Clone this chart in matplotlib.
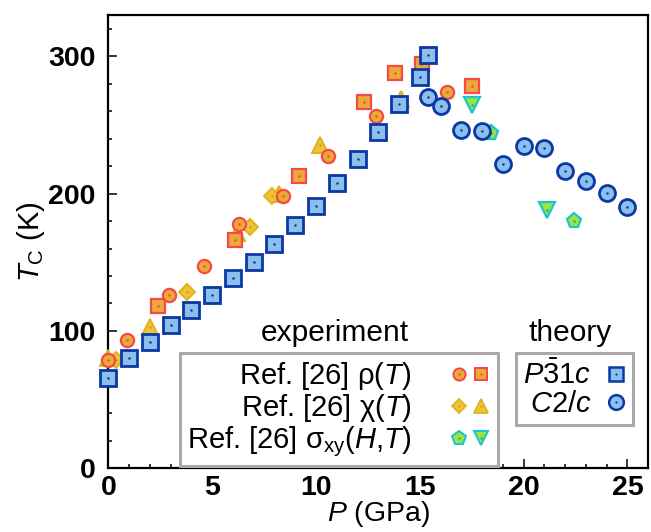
import matplotlib
matplotlib.use("Agg")
import matplotlib.pyplot as plt
from matplotlib.lines import Line2D
from matplotlib.legend_handler import HandlerTuple
from matplotlib.ticker import MultipleLocator

plt.rcParams['font.family'] = ['Liberation Sans', 'DejaVu Sans']
plt.rcParams['mathtext.fontset'] = 'custom'
plt.rcParams['mathtext.rm'] = 'Liberation Sans'
plt.rcParams['mathtext.it'] = 'Liberation Sans:italic'
plt.rcParams['mathtext.bf'] = 'Liberation Sans:bold'

# ---- theory: P-31c and C2/c ----
p31c_P = [0, 1, 2, 3, 4, 5, 6, 7, 8, 9, 10, 11, 12, 13, 14, 15, 15.4]
p31c_T = [65.5, 80, 92, 104, 115.5, 126, 138.5, 150.5, 163, 177, 191, 208,
          225.5, 244.5, 265, 285, 301]
c2c_P = [15.4, 16, 17, 18, 19, 20, 21, 22, 23, 24, 25]
c2c_T = [270.5, 264, 246.5, 245.5, 221.5, 234.5, 233.5, 216.5, 209.5, 200.5, 190.5]

# ---- experiment, Ref. [26] ----
rho_circ_P = [0, 0.9, 2.9, 4.6, 6.3, 8.4, 10.6, 12.9, 16.3]
rho_circ_T = [79, 93.5, 126, 147.5, 177.5, 198, 227.5, 256.5, 274]
rho_sq_P = [2.4, 6.1, 9.2, 12.3, 13.8, 15.1, 17.5]
rho_sq_T = [118.5, 166.5, 212.5, 267, 287.5, 294.5, 278.5]
chi_dia_P = [0.35, 3.8, 6.8, 7.9]
chi_dia_T = [79, 128, 175.5, 198]
chi_tri_P = [0, 2.0, 6.2, 8.2, 10.2, 14.1]
chi_tri_T = [80, 103, 171, 200, 235.5, 269]
sig_pent_P = [18.45, 22.4]
sig_pent_T = [244, 180]
sig_tri_P = [17.5, 21.1]
sig_tri_T = [264.5, 188]

BLUE_F, BLUE_E = '#8bbfec', '#0b38a6'
ORG_F, ORG_E = '#eaa93a', '#f44a45'
YEL_F, YEL_E = '#ecc438', '#e2b11c'
GRN_F, GRN_E = '#9fe23c', '#17c6d0'

styles = {
    'rho_c': dict(marker='o', ms=9.5, mfc=ORG_F, mec=ORG_E, mew=1.6, dot=ORG_E),
    'rho_s': dict(marker='s', ms=9.5, mfc=ORG_F, mec=ORG_E, mew=1.6, dot=ORG_E),
    'chi_d': dict(marker='D', ms=8.0, mfc=YEL_F, mec=YEL_E, mew=1.4, dot='#d99a20'),
    'chi_t': dict(marker='^', ms=11.5, mfc=YEL_F, mec=YEL_E, mew=1.4, dot='#d99a20'),
    'sig_p': dict(marker='p', ms=11.0, mfc=GRN_F, mec=GRN_E, mew=1.6, dot='#12a8b0'),
    'sig_t': dict(marker='v', ms=11.5, mfc=GRN_F, mec=GRN_E, mew=1.6, dot='#12a8b0'),
    'p31c': dict(marker='s', ms=11.5, mfc=BLUE_F, mec=BLUE_E, mew=2.0, dot=BLUE_E),
    'c2c': dict(marker='o', ms=11.5, mfc=BLUE_F, mec=BLUE_E, mew=2.0, dot=BLUE_E),
}


class Stack(tuple):
    """Artists drawn on top of each other in one legend slot."""


def draw(ax, x, y, key, z):
    st = dict(styles[key])
    dot = st.pop('dot')
    ax.plot(x, y, ls='none', zorder=z, clip_on=False, **st)
    ax.plot(x, y, ls='none', marker='o', ms=1.8, mfc=dot, mec='none',
            zorder=z + 0.1, clip_on=False)


def handle(key, scale=0.92):
    st = dict(styles[key])
    dot = st.pop('dot')
    st['ms'] = st['ms'] * scale
    st['mew'] = st['mew'] * 0.9
    main = Line2D([], [], ls='none', **st)
    d = Line2D([], [], ls='none', marker='o', ms=1.6, mfc=dot, mec='none')
    return Stack((main, d))


fig = plt.figure(figsize=(6.51, 5.32), dpi=100)
ax = fig.add_axes([0.1664, 0.1197, 0.8294, 0.8521])

draw(ax, chi_tri_P, chi_tri_T, 'chi_t', 3)
draw(ax, chi_dia_P, chi_dia_T, 'chi_d', 3.2)
draw(ax, rho_sq_P, rho_sq_T, 'rho_s', 3.4)
draw(ax, rho_circ_P, rho_circ_T, 'rho_c', 3.6)
draw(ax, sig_pent_P, sig_pent_T, 'sig_p', 3.8)
draw(ax, sig_tri_P, sig_tri_T, 'sig_t', 3.8)
draw(ax, p31c_P, p31c_T, 'p31c', 5)
draw(ax, c2c_P, c2c_T, 'c2c', 5)

ax.set_xlim(0, 26)
ax.set_ylim(0, 330)
ax.xaxis.set_major_locator(MultipleLocator(5))
ax.xaxis.set_minor_locator(MultipleLocator(1))
ax.yaxis.set_major_locator(MultipleLocator(100))
ax.yaxis.set_minor_locator(MultipleLocator(20))
ax.tick_params(which='both', direction='in', top=False, right=False, width=1.1,
               labelsize=20.5)
ax.tick_params(which='major', length=6.5)
ax.tick_params(which='minor', length=3)
ax.tick_params(axis='y', pad=9)
ax.tick_params(axis='x', pad=5)
for lab in ax.get_xticklabels() + ax.get_yticklabels():
    lab.set_fontweight('bold')
for sp in ax.spines.values():
    sp.set_linewidth(1.6)

ax.set_xlabel(r'$\mathit{P}$ (GPa)', fontsize=20.5, labelpad=-1.5)
ax.set_ylabel(r'$\mathit{T}_{\mathrm{C}}$ (K)', fontsize=21, labelpad=1)

# legends
hmap = {Stack: HandlerTuple(ndivide=1, pad=0),
        tuple: HandlerTuple(ndivide=None, pad=0.15)}

exp_handles = [
    (handle('rho_c'), handle('rho_s')),
    (handle('chi_d'), handle('chi_t')),
    (handle('sig_p'), handle('sig_t')),
]
exp_labels = [
    r'Ref. [26] ρ($\mathit{T}$)',
    r'Ref. [26] χ($\mathit{T}$)',
    r'Ref. [26] σ$_{\mathrm{xy}}$($\mathit{H}$,$\mathit{T}$)',
]

leg1 = ax.legend(exp_handles, exp_labels, loc='upper left',
                 bbox_to_anchor=(0.133, 0.254), borderaxespad=0,
                 markerfirst=False, fontsize=21, handlelength=1.4,
                 handletextpad=1.3, labelspacing=0.0, borderpad=0.25,
                 fancybox=False, framealpha=1, edgecolor='#a9a9a9',
                 handler_map=hmap)
leg1.get_frame().set_linewidth(2.2)
ax.add_artist(leg1)

theory_handles = [handle('p31c'), handle('c2c')]
theory_labels = [r'$\mathit{P}\bar{3}1\mathit{c}$', r'$\mathit{C}2/\mathit{c}$']
leg2 = ax.legend(theory_handles, theory_labels, loc='upper right',
                 bbox_to_anchor=(0.971, 0.254), borderaxespad=0,
                 markerfirst=False, fontsize=21, handlelength=0.62,
                 handletextpad=0.55, labelspacing=0.0, borderpad=0.25,
                 fancybox=False, framealpha=1, edgecolor='#a9a9a9',
                 handler_map=hmap)
leg2.get_frame().set_linewidth(2.2)

ax.text(0.42, 0.298, 'experiment', transform=ax.transAxes, fontsize=21.5,
        ha='center', va='center')
ax.text(0.855, 0.298, 'theory', transform=ax.transAxes, fontsize=21.5,
        ha='center', va='center')

fig.savefig('out.png', dpi=100)
